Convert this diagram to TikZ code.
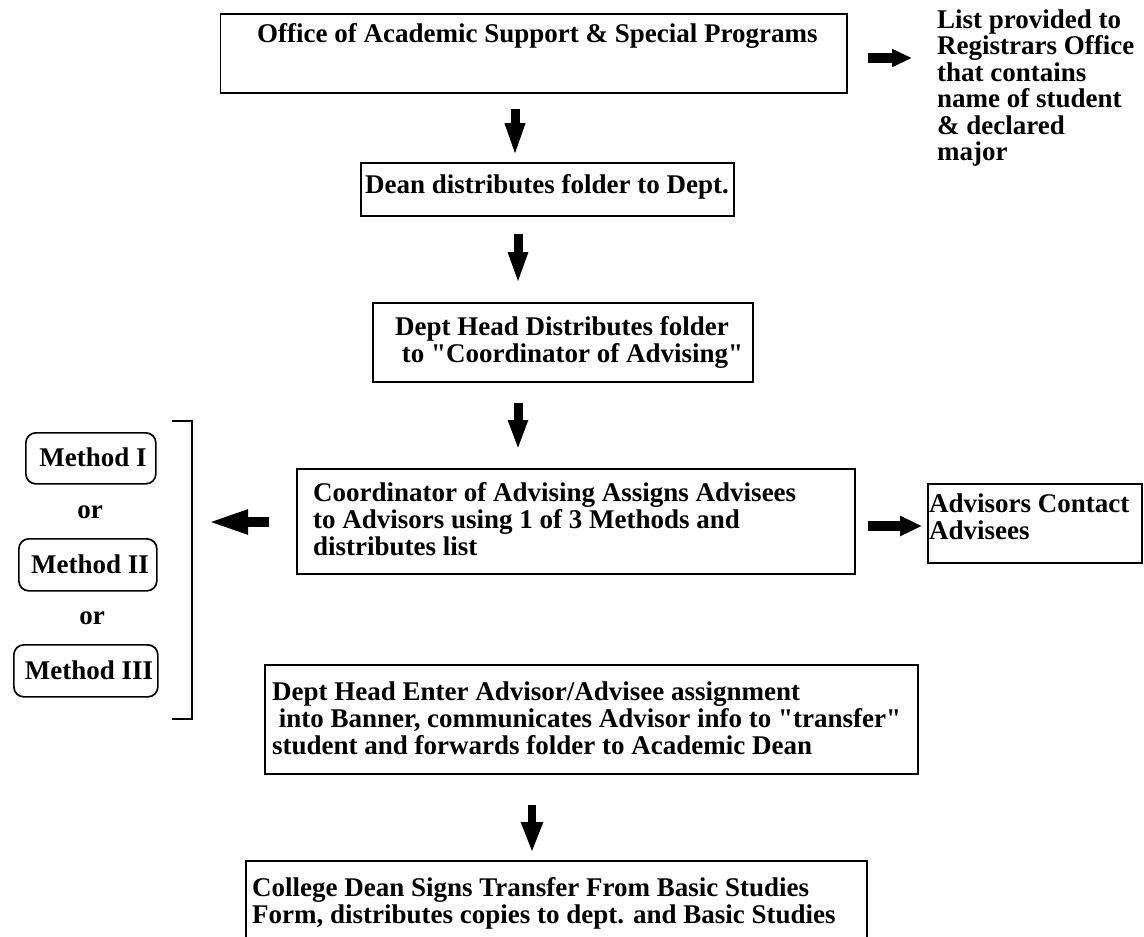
\documentclass[tikz,border=0pt]{standalone}
\usepackage{fontspec}
\setmainfont{Liberation Serif}
\usetikzlibrary{arrows.meta}
\newcommand\stk[2][27pt]{\vtop{\baselineskip=#1\relax\lineskip=0pt\lineskiplimit=-100pt\halign{##\hfil\cr#2\crcr}}}
\newcommand\qq{\textquotedbl}
\begin{document}
\begin{tikzpicture}[x=1pt,y=-1pt,
  box/.style={draw, line width=1.7pt, inner sep=0pt, anchor=north west},
  mbox/.style={box, rounded corners=10pt},
  txt/.style={inner sep=0pt, font=\fontsize{27pt}{27pt}\selectfont\bfseries, anchor=base west},
  ctxt/.style={txt, anchor=center},
  barrow/.style n args={3}{line width=#1, -{Triangle[length=#2,width=#3]}}]
\useasboundingbox (0,0) rectangle (1144,937);
\clip (0,0) rectangle (1144,937);
% boxes
\node[box, minimum width=626.5pt, minimum height=79pt] (b1) at (219.5,13) {};
\node[box, minimum width=373pt, minimum height=53pt] (b2) at (360,162) {};
\node[box, minimum width=380pt, minimum height=79pt] (b3) at (372,302) {};
\node[box, minimum width=558pt, minimum height=105pt] (b4) at (296,468) {};
\node[box, minimum width=214pt, minimum height=79pt] (b5) at (927,483) {};
\node[box, minimum width=653pt, minimum height=109pt] (b6) at (264,664) {};
\node[box, minimum width=621pt, minimum height=110pt] (b7) at (245,860) {};
\node[mbox, minimum width=130pt, minimum height=51pt] (m1) at (25,432) {};
\node[mbox, minimum width=138pt, minimum height=52pt] (m2) at (18,538) {};
\node[mbox, minimum width=144pt, minimum height=52pt] (m3) at (13,644) {};
% texts
\node[txt] (t1) at (257,42) {Office of Academic Support \& Special Programs};
\node[txt] (t2) at (365,193) {Dean distributes folder to Dept.};
\node[txt] (t3) at (395,335) {\stk{Dept Head Distributes folder\cr\ to \qq Coordinator of Advising\qq}};
\node[txt] (t4) at (313,501) {\stk{Coordinator of Advising Assigns Advisees\cr to Advisors using 1 of 3 Methods and\cr distributes list}};
\node[txt] (t5) at (929,512) {\stk{Advisors Contact\cr Advisees}};
\node[txt] (t6) at (272,700) {\stk{Dept Head Enter Advisor/Advisee assignment\cr\ into Banner, communicates Advisor info to \qq transfer\qq\cr student and forwards folder to Academic Dean}};
\node[txt] (t7) at (252,896) {\stk{College Dean Signs Transfer From Basic Studies\cr Form, distributes copies to dept. and Basic Studies}};
\node[txt] (tr) at (937,28) {\stk[26.5pt]{List provided to\cr Registrars Office\cr that contains\cr name of student\cr \& declared\cr major}};
\node[ctxt] (tm1) at (93,457) {Method I};
\node[ctxt] (tm2) at (90,564) {Method II};
\node[ctxt] (tm3) at (89,670) {Method III};
\node[ctxt] (or1) at (90,512) {or};
\node[ctxt] (or2) at (92,618) {or};
% bracket
\draw[line width=1.7pt] (172,421) -- (192,421) -- (192,719) -- (172,719);
% arrow end points
\coordinate (a0s) at (868,58);  \coordinate (a0e) at (912,58);
\coordinate (a1s) at (515,109); \coordinate (a1e) at (515,157);
\coordinate (a2s) at (518,234); \coordinate (a2e) at (518,284);
\coordinate (a3s) at (518,403); \coordinate (a3e) at (518,450);
\coordinate (als) at (269,522); \coordinate (ale) at (207,522);
\coordinate (ars) at (868,526); \coordinate (are) at (922,526);
\coordinate (a4s) at (532,805); \coordinate (a4e) at (532,853);
\draw[barrow={10pt}{20pt}{17pt}] (a0s) -- (a0e);
\draw[barrow={9pt}{34pt}{18pt}] (a1s) -- (a1e);
\draw[barrow={9pt}{32pt}{18pt}] (a2s) -- (a2e);
\draw[barrow={9pt}{30pt}{18pt}] (a3s) -- (a3e);
\draw[barrow={10pt}{41pt}{22pt}] (als) -- (ale);
\draw[barrow={10pt}{22pt}{19pt}] (ars) -- (are);
\draw[barrow={8pt}{31pt}{20pt}] (a4s) -- (a4e);
\end{tikzpicture}
\end{document}
